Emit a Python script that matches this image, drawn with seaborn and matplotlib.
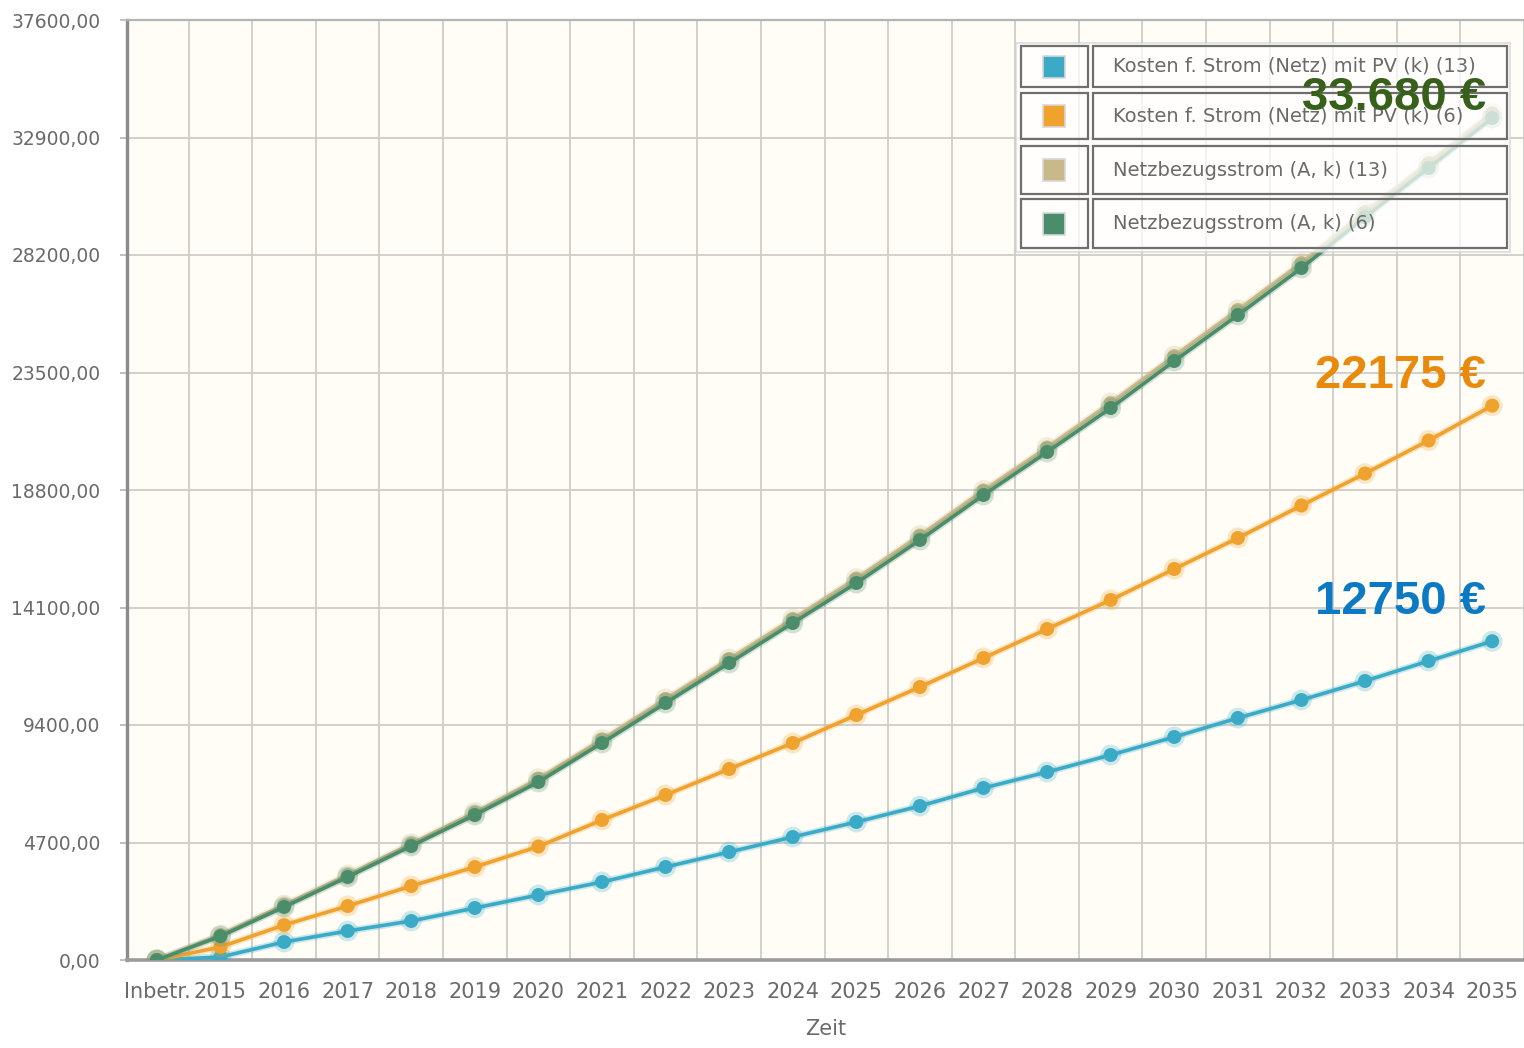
import matplotlib
matplotlib.use("Agg")
import matplotlib.pyplot as plt
import matplotlib.patheffects as pe
from matplotlib.patches import Rectangle
import numpy as np
import pandas as pd
import seaborn as sns

# --- data -------------------------------------------------------------
periods = ["Inbetr.", "2015", "2016", "2017", "2018", "2019", "2020", "2021",
           "2022", "2023", "2024", "2025", "2026", "2027", "2028", "2029",
           "2030", "2031", "2032", "2033", "2034", "2035"]

kosten_13 = [0, 120, 720, 1160, 1560, 2080, 2600, 3120, 3720, 4320, 4920,
             5520, 6160, 6880, 7520, 8200, 8920, 9680, 10400, 11160, 11960, 12750]
kosten_6 = [0, 520, 1400, 2160, 2960, 3720, 4540, 5600, 6600, 7640, 8680,
            9800, 10920, 12080, 13240, 14400, 15640, 16880, 18180, 19460, 20780, 22175]
netz_13 = [0, 1000, 2200, 3400, 4650, 5900, 7250, 8820, 10440, 12040, 13640,
           15260, 16980, 18780, 20500, 22280, 24160, 26000, 27880, 29920, 31880, 33880]
netz_6 = [0, 950, 2120, 3320, 4560, 5800, 7120, 8680, 10280, 11880, 13480,
          15080, 16800, 18600, 20320, 22080, 23960, 25800, 27680, 29720, 31680, 33680]

series_names = ["Kosten f. Strom (Netz) mit PV (k) (13)",
                "Kosten f. Strom (Netz) mit PV (k) (6)",
                "Netzbezugsstrom (A, k) (13)",
                "Netzbezugsstrom (A, k) (6)"]
series_values = [kosten_13, kosten_6, netz_13, netz_6]
series_colors = ["#3aaac6", "#f0a22e", "#c9b98a", "#4b8d6b"]

y_ticks = [0, 4700, 9400, 14100, 18800, 23500, 28200, 32900, 37600]

end_labels = ["12750 €", "22175 €", "33.680 €"]
end_label_series = [0, 1, 3]
end_label_colors = ["#0b79c4", "#e98a0c", "#37611a"]
end_label_offsets = [39, 30, 20]

# --- long table for seaborn ------------------------------------------
rows = []
for name, vals in zip(series_names, series_values):
    for i, (p, v) in enumerate(zip(periods, vals)):
        rows.append({"pos": i, "period": p, "value": v, "series": name})
df = pd.DataFrame(rows)

# --- figure ----------------------------------------------------------
W, H = 1524, 1048
sns.set_theme(style="white")
plt.rcParams["font.family"] = ["DejaVu Sans"]

fig = plt.figure(figsize=(W / 100, H / 100), dpi=100, facecolor="white")
ax = fig.add_axes([127 / W, (H - 960) / H, (W - 127) / W, (960 - 20) / H])
ax.set_facecolor("#fffdf6")

sns.lineplot(data=df, x="pos", y="value", hue="series", hue_order=series_names,
             palette=series_colors, marker="o", markersize=10,
             markeredgewidth=0, linewidth=2.6, dashes=False, sort=False,
             legend=False, ax=ax)

for line in ax.lines:
    c = line.get_color()
    line.set_path_effects([pe.Stroke(linewidth=5.0, foreground=c, alpha=0.25),
                           pe.Normal()])
    line.set_zorder(3)

# axes scales (the last category band is cut by the right edge)
ax.set_xlim(-0.47, 21.36)
ax.set_ylim(0, 37600)

ax.set_yticks(y_ticks)
ax.set_yticklabels([f"{v:.2f}".replace(".", ",") for v in y_ticks])
ax.set_xticks(range(len(periods)))
ax.set_xticklabels(periods)
ax.set_xticks(np.arange(0.5, len(periods), 1.0), minor=True)

ax.grid(which="minor", axis="x", color="#cfcdc8", linewidth=1.3)
ax.grid(which="major", axis="y", color="#cfcdc8", linewidth=1.3)
ax.grid(which="major", axis="x", visible=False)
ax.set_axisbelow(True)

ax.tick_params(axis="x", which="major", length=0, pad=16,
               labelsize=15, labelcolor="#6a6a6a")
ax.tick_params(axis="x", which="minor", length=6, width=1.3,
               color="#bdbbb6", direction="out")
ax.tick_params(axis="y", which="major", length=5, width=1.3, pad=14,
               color="#bdbbb6", labelsize=13.5, labelcolor="#6a6a6a")
ax.tick_params(left=True, bottom=True)

ax.spines["right"].set_visible(False)
ax.spines["left"].set_color("#8c8c8c")
ax.spines["left"].set_linewidth(2.4)
ax.spines["bottom"].set_color("#9c9c9c")
ax.spines["bottom"].set_linewidth(2.6)
ax.spines["top"].set_color("#b4b4b4")
ax.spines["top"].set_linewidth(1.6)

ax.set_xlabel("Zeit", fontsize=15, color="#6a6a6a", labelpad=12)
ax.set_ylabel("")


# --- boxed legend (drawn inside the axes, above the lines) -------------
def fx(px):
    return px / W


def fy(py):
    return 1 - py / H


tf = fig.transFigure
legend_rows = [(46, 87), (93, 139), (146, 194), (199, 248)]
outer = Rectangle((fx(1016), fy(252)), fx(1510) - fx(1016), fy(43) - fy(252),
                  transform=tf, facecolor="white", alpha=0.72,
                  edgecolor="#cfcfcf", linewidth=1.2, zorder=5)
ax.add_artist(outer)
for (top, bot), name, col in zip(legend_rows, series_names, series_colors):
    cell1 = Rectangle((fx(1021), fy(bot)), fx(1088) - fx(1021), fy(top) - fy(bot),
                      transform=tf, facecolor="none",
                      edgecolor="#6e6e6e", linewidth=1.6, zorder=6)
    cell2 = Rectangle((fx(1093), fy(bot)), fx(1507) - fx(1093), fy(top) - fy(bot),
                      transform=tf, facecolor="none",
                      edgecolor="#6e6e6e", linewidth=1.6, zorder=6)
    mid = (top + bot) / 2
    sw = Rectangle((fx(1043), fy(mid + 11)), fx(1065) - fx(1043),
                   fy(mid - 11) - fy(mid + 11),
                   transform=tf, facecolor=col,
                   edgecolor="#d8d8d8", linewidth=1.2, zorder=7)
    for art in (cell1, cell2, sw):
        ax.add_artist(art)
    ax.text(fx(1113), fy(mid), name, transform=tf, ha="left", va="center",
            fontsize=14, color="#6a6a6a", zorder=7)

# --- end value labels ------------------------------------------------
last = len(periods) - 1
for text, si, col, dy in zip(end_labels, end_label_series,
                             end_label_colors, end_label_offsets):
    ax.annotate(text, xy=(last, series_values[si][last]),
                xytext=(-6, dy), textcoords="offset pixels",
                ha="right", va="center", fontsize=34, fontweight="bold",
                color=col, family=["Liberation Sans", "DejaVu Sans"],
                zorder=10)

fig.savefig("out.png", dpi=100, facecolor="white")
